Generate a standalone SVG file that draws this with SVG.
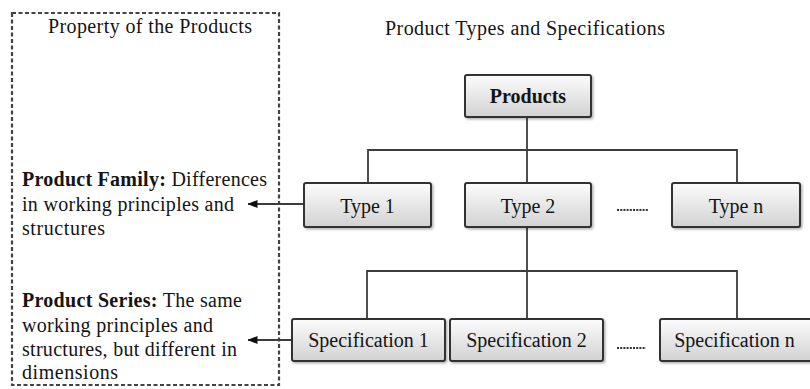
<svg xmlns="http://www.w3.org/2000/svg" width="810" height="389" viewBox="0 0 810 389">
<defs>
<linearGradient id="boxg" x1="0" y1="0" x2="0" y2="1">
<stop offset="0" stop-color="#fcfcfc"/>
<stop offset="1" stop-color="#d2d2d2"/>
</linearGradient>
<marker id="arr" viewBox="0 0 10 8" refX="9.5" refY="4" markerWidth="10" markerHeight="8" markerUnits="userSpaceOnUse" orient="auto">
<path d="M0,0 L10,4 L0,8 z" fill="#111"/>
</marker>
<filter id="sh" x="-10%" y="-10%" width="130%" height="140%">
<feDropShadow dx="1.5" dy="1.5" stdDeviation="0.8" flood-color="#000" flood-opacity="0.3"/>
</filter>
</defs>
<style>
text{font-family:"Liberation Serif","Times New Roman",serif;fill:#141414;font-size:20px}
.b{font-weight:bold}
.box rect{fill:url(#boxg);stroke:#333;stroke-width:2;filter:url(#sh)}
.box text{text-anchor:middle}
.ln{fill:none;stroke:#3c3c3c;stroke-width:1.8}
.dots{stroke:#333;stroke-width:2;stroke-dasharray:2,1.2}
</style>
<rect width="810" height="389" fill="#fff"/>

<g id="property-panel">
<rect x="12" y="13" width="267" height="372" fill="none" stroke="#444" stroke-width="2.2" stroke-dasharray="4,2.5"/>
<text x="48" y="33" textLength="204">Property of the Products</text>
<text x="22" y="186" textLength="245"><tspan class="b">Product Family:</tspan> Differences</text>
<text x="22" y="211" textLength="212">in working principles and</text>
<text x="22" y="235" textLength="83">structures</text>
<text x="22" y="307" textLength="220"><tspan class="b">Product Series:</tspan> The same</text>
<text x="22" y="332" textLength="191">working principles and</text>
<text x="22" y="356" textLength="215">structures, but different in</text>
<text x="22" y="379" textLength="96">dimensions</text>
</g>

<text id="title-right" x="385" y="35" textLength="280">Product Types and Specifications</text>

<g id="connectors">
<path class="ln" d="M527,117 V183 M368,183 V150 H737 V183"/>
<path class="ln" d="M527,227 V319 M367,319 V271 H737 V319"/>
<path class="ln" d="M304,204 H248" marker-end="url(#arr)"/>
<path class="ln" d="M292,340 H248" marker-end="url(#arr)"/>
</g>

<g id="products" class="box"><rect x="465" y="75" width="126" height="42" rx="2"/><text class="b" x="528" y="103">Products</text></g>
<g id="type1" class="box"><rect x="304" y="183" width="127" height="44" rx="2"/><text x="367.5" y="213">Type 1</text></g>
<g id="type2" class="box"><rect x="465" y="183" width="126" height="44" rx="2"/><text x="528" y="213">Type 2</text></g>
<g id="type-ellipsis"><line class="dots" x1="617" y1="210" x2="648" y2="210"/></g>
<g id="typen" class="box"><rect x="672" y="183" width="128" height="44" rx="2"/><text x="736" y="213">Type n</text></g>
<g id="spec1" class="box"><rect x="292" y="319" width="153" height="42" rx="2"/><text x="368.5" y="347">Specification 1</text></g>
<g id="spec2" class="box"><rect x="450" y="319" width="153" height="42" rx="2"/><text x="526.5" y="347">Specification 2</text></g>
<g id="spec-ellipsis"><line class="dots" x1="617" y1="348" x2="646" y2="348"/></g>
<g id="specn" class="box"><rect x="660" y="319" width="154" height="42" rx="2"/><text x="734.5" y="347">Specification n</text></g>
</svg>
